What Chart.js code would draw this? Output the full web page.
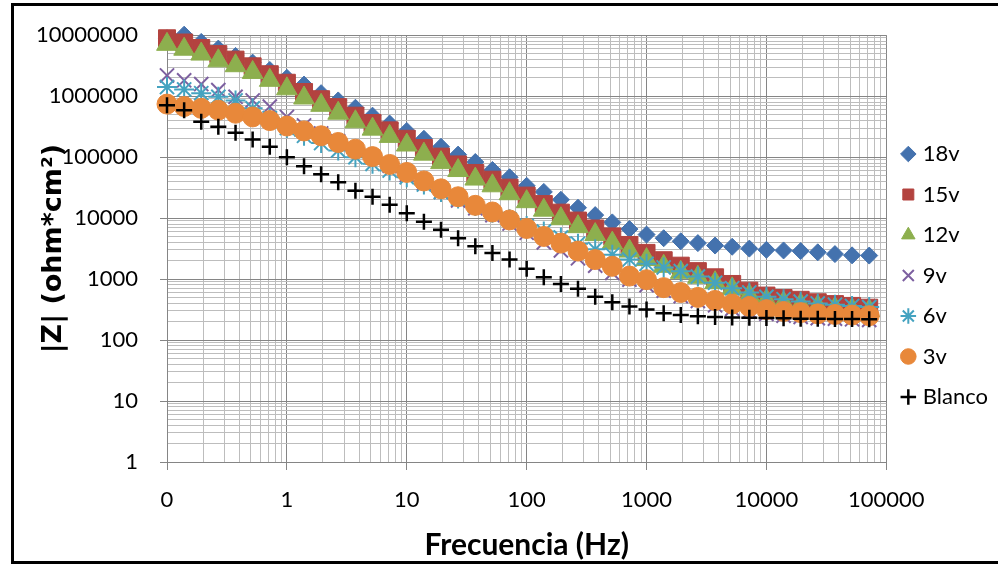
<!DOCTYPE html>
<html>
<head>
<meta charset="utf-8">
<title>|Z| vs Frecuencia</title>
<script src="https://cdn.jsdelivr.net/npm/chart.js@4.4.1/dist/chart.umd.min.js"></script>
<style>
  html, body { margin: 0; padding: 0; background: #fff; }
  #wrap { width: 998px; height: 565px; }
</style>
</head>
<body>
<div id="wrap"><canvas id="zChart" width="998" height="565"></canvas></div>
<script>
        // frecuencias (Hz), 7 puntos por decada
        const frequencies = [0.1, 0.139, 0.193, 0.268, 0.373, 0.518, 0.72,
            1, 1.39, 1.93, 2.68, 3.73, 5.18, 7.2,
            10, 13.9, 19.3, 26.8, 37.3, 51.8, 72,
            100, 139, 193, 268, 373, 518, 720,
            1000, 1390, 1930, 2680, 3730, 5180, 7200,
            10000, 13900, 19300, 26800, 37300, 51800, 72000];

        // |Z| (ohm*cm2) por serie
        const z18v = [8900000, 10200000, 7760000, 6030000, 4570000, 3550000, 2690000, 2000000, 1550000, 1120000,
            851000, 646000, 479000, 355000, 269000, 200000, 148000, 110000, 83200, 61700,
            46800, 33900, 26900, 20000, 14800, 11200, 8510, 6610, 5370, 4680,
            4170, 3890, 3550, 3390, 3160, 3020, 2950, 2880, 2750, 2570, 2450, 2430];
        const z15v = [8910000, 7590000, 6170000, 4900000, 3980000, 3090000, 2290000, 1660000, 1170000, 891000,
            661000, 479000, 363000, 275000, 200000, 141000, 102000, 75900, 55000, 42700,
            31600, 23400, 17000, 12300, 9120, 6760, 5010, 3630, 2690, 2040,
            1660, 1350, 1070, 832, 646, 537, 490, 457, 417, 389, 363, 339];
        const z12v = [7080000, 5890000, 4900000, 3800000, 3160000, 2450000, 1820000, 1320000, 933000, 708000,
            525000, 380000, 288000, 219000, 158000, 112000, 81300, 60300, 43700, 33900,
            25100, 18600, 13500, 9770, 7240, 5370, 3890, 2880, 2090, 1620,
            1290, 1070, 871, 692, 537, 447, 407, 380, 355, 331, 316, 302];
        const z9v = [2190000, 1820000, 1580000, 1260000, 977000, 851000, 676000, 457000, 331000, 245000,
            182000, 135000, 100000, 72400, 51300, 37200, 26900, 19500, 14500, 11200,
            8130, 5750, 3980, 2950, 2190, 1660, 1260, 977, 794, 646,
            525, 437, 372, 324, 295, 269, 251, 240, 229, 224, 219, 214];
        const z6v = [1410000, 1290000, 1120000, 977000, 851000, 631000, 437000, 302000, 224000, 170000,
            129000, 100000, 77600, 60300, 46800, 35500, 26900, 20900, 15800, 12300,
            9550, 7410, 6030, 4790, 3800, 3090, 2510, 2090, 1780, 1550,
            1350, 1100, 871, 708, 603, 513, 468, 427, 398, 380, 363, 347];
        const z3v = [741000, 676000, 631000, 589000, 525000, 457000, 398000, 324000, 269000, 224000,
            174000, 135000, 102000, 75900, 56200, 40700, 30200, 22400, 16200, 12600,
            9330, 6760, 5010, 3890, 2880, 2090, 1620, 1120, 977, 724,
            603, 501, 447, 389, 355, 316, 295, 282, 269, 263, 257, 251];
        const zBlanco = [708000, 589000, 380000, 316000, 251000, 195000, 148000, 100000, 70800, 52500,
            38900, 28200, 22400, 16600, 12000, 8710, 6460, 4680, 3470, 2690,
            2090, 1480, 1070, 832, 692, 513, 417, 355, 316, 275,
            257, 245, 240, 234, 232, 229, 227, 224, 223, 222, 221, 220];

        const xDecades = [0.1, 1, 10, 100, 1000, 10000, 100000];
        const xTickLabels = ['0', '1', '10', '100', '1000', '10000', '100000'];
        const yDecades = [1, 10, 100, 1000, 10000, 100000, 1000000, 10000000];
        const yTickLabels = ['1', '10', '100', '1000', '10000', '100000', '1000000', '10000000'];

        function toPoints(values) {
            return frequencies.map((f, i) => ({ x: f, y: values[i] }));
        }

        // lineas de la grilla en 1..9 de cada decada
        function logGrid(decades) {
            let ticks = [];
            decades.forEach((d, i) => {
                ticks.push({ value: d, major: true });
                if (i < decades.length - 1) {
                    for (let k = 2; k <= 9; k++) ticks.push({ value: d * k, major: false });
                }
            });
            return ticks;
        }

        function series(label, values, style, color, radius, width, order) {
            return {
                label: label,
                data: toPoints(values),
                showLine: false,
                clip: false,
                order: order,
                pointStyle: style,
                pointRadius: radius,
                pointHoverRadius: radius,
                pointBackgroundColor: color,
                pointBorderColor: color,
                pointBorderWidth: width,
                backgroundColor: color,
                borderColor: color
            };
        }

        const majorGrid = '#858585';
        const minorGrid = '#bdbdbd';

        const framePlugin = {
            id: 'frame',
            beforeDraw(chart) {
                const ctx = chart.ctx;
                ctx.save();
                ctx.fillStyle = '#ffffff';
                ctx.fillRect(0, 0, chart.width, chart.height);
                ctx.restore();
            },
            afterDraw(chart) {
                const ctx = chart.ctx;
                ctx.save();
                ctx.strokeStyle = '#000000';
                ctx.lineWidth = 3;
                ctx.strokeRect(12.5, 4.5, 1000, 558);
                ctx.restore();
            }
        };

        const ctx = document.getElementById('zChart').getContext('2d');

        new Chart(ctx, {
            type: 'scatter',
            data: {
                datasets: [
                    series('18v', z18v, 'rectRot', '#4472ae', 8.5, 1, 7),
                    series('15v', z15v, 'rect', '#b3433f', 12, 1, 6),
                    series('12v', z12v, 'triangle', '#8daf4e', 12, 1, 5),
                    series('9v', z9v, 'crossRot', '#7d60a0', 10, 2, 4),
                    series('6v', z6v, 'star', '#45a3c0', 10, 2, 3),
                    series('3v', z3v, 'circle', '#e8883a', 10, 1, 2),
                    series('Blanco', zBlanco, 'cross', '#000000', 8, 2.5, 1)
                ]
            },
            options: {
                responsive: false,
                animation: false,
                layout: { padding: { left: 14, top: 29, right: 0, bottom: 43 } },
                plugins: {
                    tooltip: { enabled: false },
                    legend: {
                        position: 'right',
                        maxWidth: 112,
                        labels: {
                            usePointStyle: true,
                            boxWidth: 7,
                            boxHeight: 11,
                            padding: 18.5,
                            color: '#000000',
                            font: { family: 'Lato', size: 22 },
                            sort: (a, b) => a.datasetIndex - b.datasetIndex
                        }
                    }
                },
                scales: {
                    x: {
                        type: 'logarithmic',
                        min: 0.1,
                        max: 100000,
                        afterBuildTicks: scale => { scale.ticks = logGrid(xDecades); },
                        afterFit: scale => { scale.height = 60; },
                        border: { color: majorGrid },
                        grid: {
                            color: c => (c.tick && c.tick.major) ? majorGrid : minorGrid,
                            tickColor: c => (c.tick && c.tick.major) ? majorGrid : 'rgba(0,0,0,0)',
                            tickLength: 8
                        },
                        ticks: {
                            autoSkip: false,
                            maxRotation: 0,
                            padding: 17,
                            color: '#000000',
                            font: { family: 'Lato', size: 22 },
                            callback: v => {
                                const i = xDecades.indexOf(v);
                                return i >= 0 ? xTickLabels[i] : '';
                            }
                        },
                        title: {
                            display: true,
                            text: 'Frecuencia (Hz)',
                            color: '#000000',
                            font: { family: 'Lato', size: 30, weight: 'bold' },
                            padding: { top: 0, bottom: -41 }
                        }
                    },
                    y: {
                        type: 'logarithmic',
                        min: 1,
                        max: 10000000,
                        afterBuildTicks: scale => { scale.ticks = logGrid(yDecades); },
                        afterFit: scale => { scale.width = 153; },
                        border: { color: majorGrid },
                        grid: {
                            color: c => (c.tick && c.tick.major) ? majorGrid : minorGrid,
                            tickColor: c => (c.tick && c.tick.major) ? majorGrid : 'rgba(0,0,0,0)',
                            tickLength: 7
                        },
                        ticks: {
                            autoSkip: false,
                            padding: 22,
                            color: '#000000',
                            font: { family: 'Lato', size: 22 },
                            callback: v => {
                                const i = yDecades.indexOf(v);
                                return i >= 0 ? yTickLabels[i] : '';
                            }
                        },
                        title: {
                            display: true,
                            text: '|Z| (ohm*cm²)',
                            color: '#000000',
                            font: { family: 'DejaVu Sans', size: 27, weight: 'bold' },
                            padding: { top: 24, bottom: 0 }
                        }
                    }
                }
            },
            plugins: [framePlugin]
        });
</script>
</body>
</html>
